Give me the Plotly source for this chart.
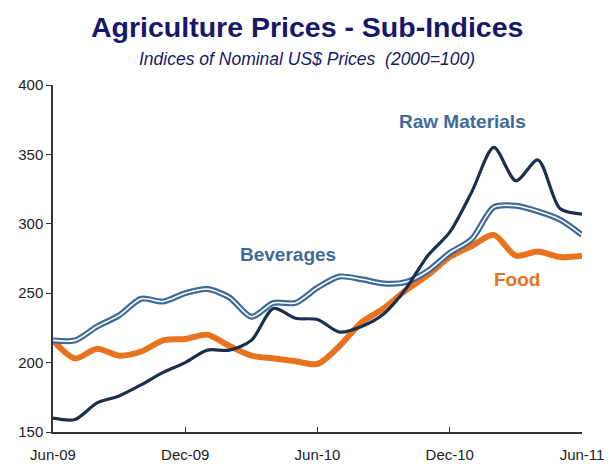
import plotly.graph_objects as go

# Monthly observations, Jun-2009 .. Jun-2011
months = ["Jun-09", "Jul-09", "Aug-09", "Sep-09", "Oct-09", "Nov-09", "Dec-09",
          "Jan-10", "Feb-10", "Mar-10", "Apr-10", "May-10", "Jun-10",
          "Jul-10", "Aug-10", "Sep-10", "Oct-10", "Nov-10", "Dec-10",
          "Jan-11", "Feb-11", "Mar-11", "Apr-11", "May-11", "Jun-11"]

raw_materials = [160, 159, 171, 176, 184, 193, 200, 209, 209, 216, 239, 232, 231,
                 222, 226, 235, 253, 277, 294, 323, 355, 331, 346, 311, 307]
beverages = [216, 216, 226, 234, 246, 244, 250, 253, 247, 233, 243, 243, 254,
             262, 260, 257, 258, 266, 279, 289, 312, 313, 309, 303, 292]
food = [216, 203, 210, 205, 208, 216, 217, 220, 212, 205, 203, 201, 199,
        212, 229, 239, 252, 263, 276, 284, 292, 277, 280, 276, 277]

tick_labels = ["Jun-09", "Dec-09", "Jun-10", "Dec-10", "Jun-11"]

x = list(range(len(months)))
tick_pos = [months.index(t) for t in tick_labels]

NAVY = "#1b2f4f"
STEEL = "#3f6b98"
ORANGE = "#e8731e"
FONT = "Liberation Sans, Arial, sans-serif"

fig = go.Figure()
fig.add_trace(go.Scatter(x=x, y=food, mode="lines", name="Food",
                         line=dict(color=ORANGE, width=6, shape="spline", smoothing=0.8)))
fig.add_trace(go.Scatter(x=x, y=beverages, mode="lines", name="Beverages",
                         line=dict(color=STEEL, width=6, shape="spline", smoothing=0.8)))
fig.add_trace(go.Scatter(x=x, y=beverages, mode="lines", name="Beverages core",
                         line=dict(color="white", width=1.6, shape="spline", smoothing=0.8)))
fig.add_trace(go.Scatter(x=x, y=raw_materials, mode="lines", name="Raw Materials",
                         line=dict(color=NAVY, width=3.2, shape="spline", smoothing=0.8)))

labels = [("Raw Materials", 18.6, 374, STEEL),
          ("Beverages", 10.65, 278, STEEL),
          ("Food", 21.05, 260, ORANGE)]
for text, lx, ly, col in labels:
    fig.add_annotation(x=lx, y=ly, text=f"<b>{text}</b>", showarrow=False,
                       font=dict(family=FONT, size=19, color=col))

fig.add_annotation(xref="paper", yref="paper", x=0.48, y=1.0, yanchor="bottom",
                   yshift=40, text="<b>Agriculture Prices - Sub-Indices</b>",
                   showarrow=False, font=dict(family=FONT, size=28.5, color="#17186a"))
fig.add_annotation(xref="paper", yref="paper", x=0.48, y=1.0, yanchor="bottom",
                   yshift=14, text="<i>Indices of Nominal US$ Prices  (2000=100)</i>",
                   showarrow=False, font=dict(family=FONT, size=17.5, color="#17186a"))

fig.update_layout(
    width=612, height=467,
    margin=dict(l=53, r=30, t=85, b=35),
    paper_bgcolor="white", plot_bgcolor="white",
    showlegend=False,
    font=dict(family=FONT, size=15, color="#222222"),
)
fig.update_xaxes(range=[0, 24], tickvals=tick_pos, ticktext=tick_labels,
                 showgrid=False, zeroline=False, showline=True, linecolor="#333333",
                 linewidth=1.5, ticks="inside", ticklen=5, tickcolor="#333333",
                 ticklabelstandoff=8, automargin=False,
                 tickfont=dict(size=15, color="#222222"))
fig.update_yaxes(range=[150, 400], tickvals=[150, 200, 250, 300, 350, 400],
                 showgrid=False, zeroline=False, showline=True, linecolor="#333333",
                 linewidth=1.5, ticks="outside", ticklen=5, tickcolor="#333333",
                 automargin=False, tickfont=dict(size=15, color="#222222"))

fig.write_html("out.html")
